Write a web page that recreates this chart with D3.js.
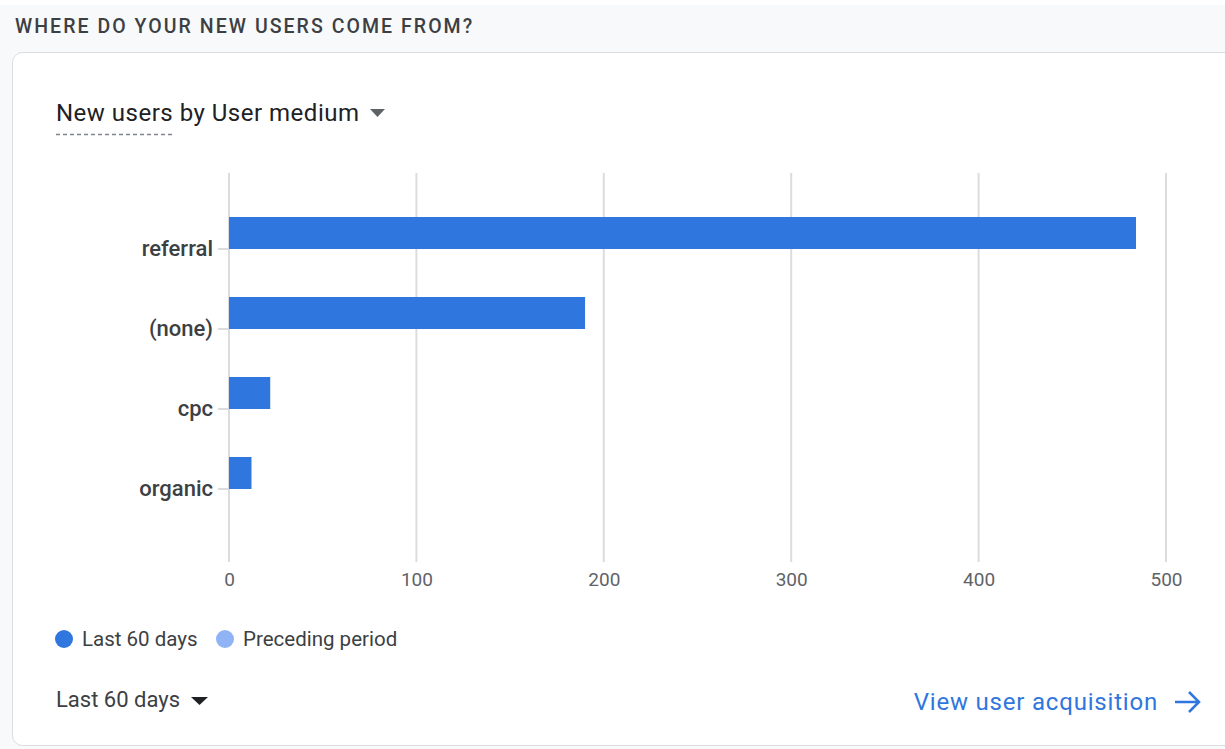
<!DOCTYPE html>
<html lang="en">
<head>
  <meta charset="UTF-8">
  <title>New users by User medium</title>
  <script src="https://d3js.org/d3.v7.min.js"></script>
  <style>
    body { margin: 0; background: #fff; }
    text { font-family: Roboto, "Noto Sans", Arial, sans-serif; }
  </style>
</head>
<body>
  <svg width="1225" height="749"></svg>

  <script>
    // chart data
    const categories = ["referral", "(none)", "cpc", "organic"];
    const series = ["Last 60 days", "Preceding period"];
    const last60 = [484, 190, 22, 12];
    const preceding = [0, 0, 0, 0];
    const xTicks = [0, 100, 200, 300, 400, 500];

    const colors = { "Last 60 days": "#2f76de", "Preceding period": "#8fb3f4" };

    const svg = d3.select("svg");

    // page background + card
    svg.append("rect").attr("x", 0).attr("y", 5).attr("width", 1225).attr("height", 744).attr("fill", "#f8f9fa");
    svg.append("rect")
      .attr("x", 12.5).attr("y", 52.5).attr("width", 1240).attr("height", 693)
      .attr("rx", 10).attr("fill", "#fff").attr("stroke", "#dadce0");

    svg.append("text")
      .attr("x", 15).attr("y", 33)
      .attr("font-size", 19.5).attr("font-weight", 500)
      .attr("letter-spacing", 2.05).attr("fill", "#3c4043")
      .text("WHERE DO YOUR NEW USERS COME FROM?");

    // card header
    svg.append("text")
      .attr("x", 56).attr("y", 121)
      .attr("font-size", 24).attr("letter-spacing", 0.5).attr("fill", "#202124")
      .text("New users by User medium");
    svg.append("line")
      .attr("x1", 56).attr("x2", 172).attr("y1", 134.5).attr("y2", 134.5)
      .attr("stroke", "#80868b").attr("stroke-width", 1.5).attr("stroke-dasharray", "4,3");
    svg.append("path").attr("d", "M370,109 L385,109 L377.5,117 Z").attr("fill", "#5f6368");

    // scales
    const x = d3.scaleLinear().domain([0, 500]).range([229, 1166]);
    const y = d3.scaleBand().domain(categories).range([209, 529]);
    const ySub = d3.scaleBand().domain(series).range([0, y.bandwidth()]).paddingOuter(0.25);

    // grid
    svg.append("g")
      .selectAll("line")
      .data(xTicks)
      .enter().append("line")
      .attr("x1", d => x(d)).attr("x2", d => x(d))
      .attr("y1", 173).attr("y2", 562)
      .attr("stroke", "#dadce0").attr("stroke-width", 2);

    // x axis labels
    const xAxis = svg.append("g")
      .attr("transform", "translate(0,562)")
      .call(d3.axisBottom(x).tickValues(xTicks).tickSize(0).tickPadding(11));
    xAxis.select(".domain").remove();
    xAxis.selectAll("text")
      .attr("font-size", 19).attr("fill", "#5f6368")
      .attr("font-family", "Roboto, sans-serif");

    // y axis
    const yAxis = svg.append("g")
      .attr("transform", "translate(229,0)")
      .call(d3.axisLeft(y).tickSize(11).tickPadding(5));
    yAxis.select(".domain").remove();
    yAxis.selectAll("line").attr("stroke", "#dadce0").attr("stroke-width", 2);
    yAxis.selectAll("text")
      .attr("font-size", 22).attr("font-weight", 500).attr("fill", "#3c4043")
      .attr("font-family", "Roboto, sans-serif");

    // bars
    const rows = categories.map((c, i) => ({ cat: c, values: [
      { key: "Last 60 days", v: last60[i] },
      { key: "Preceding period", v: preceding[i] }
    ] }));

    svg.append("g")
      .selectAll("g")
      .data(rows)
      .enter().append("g")
      .attr("transform", d => `translate(0,${y(d.cat)})`)
      .selectAll("rect")
      .data(d => d.values.filter(v => v.v > 0))
      .enter().append("rect")
      .attr("x", x(0))
      .attr("y", d => ySub(d.key))
      .attr("width", d => x(d.v) - x(0))
      .attr("height", ySub.bandwidth())
      .attr("fill", d => colors[d.key]);

    // legend
    const legendX = [64, 225];
    const legend = svg.append("g")
      .selectAll("g")
      .data(series)
      .enter().append("g")
      .attr("transform", (d, i) => `translate(${legendX[i]},639)`);
    legend.append("circle").attr("r", 9).attr("fill", d => colors[d]);
    legend.append("text")
      .attr("x", 18).attr("y", 7)
      .attr("font-size", 20.5).attr("fill", "#3c4043")
      .text(d => d);

    // footer
    svg.append("text")
      .attr("x", 56).attr("y", 707)
      .attr("font-size", 22).attr("fill", "#3c4043")
      .text("Last 60 days");
    svg.append("path").attr("d", "M191,697 L208,697 L199.5,705 Z").attr("fill", "#202124");

    svg.append("text")
      .attr("x", 1158).attr("y", 710)
      .attr("text-anchor", "end")
      .attr("font-size", 24)
      .attr("letter-spacing", 0.8).attr("fill", "#2f76de")
      .text("View user acquisition");
    svg.append("path")
      .attr("d", "M1175,702 L1199,702 M1189,692 L1199,702 L1189,712")
      .attr("fill", "none").attr("stroke", "#2f76de").attr("stroke-width", 2.5);
  </script>
</body>
</html>
